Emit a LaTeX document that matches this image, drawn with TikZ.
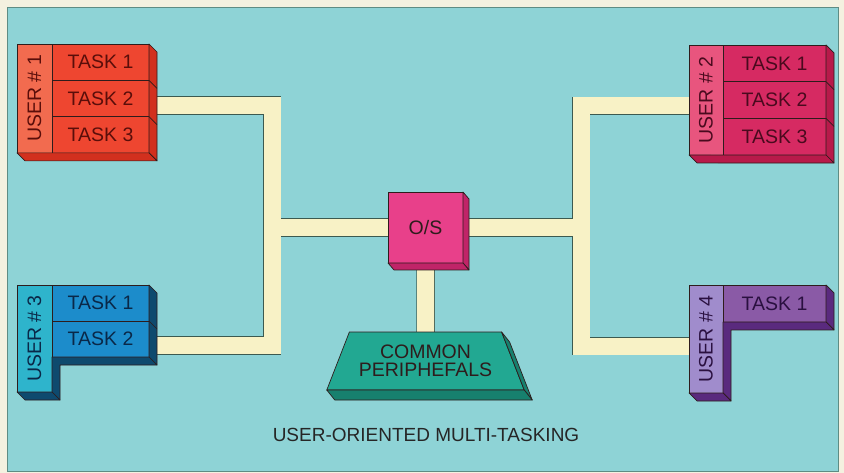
\documentclass[tikz,border=0pt]{standalone}
\usepackage{fontspec}
\setmainfont{Liberation Sans}
\usepackage{graphicx}
\usepackage{tikz}
\usetikzlibrary{positioning,shapes.geometric,backgrounds}

\definecolor{margin}{HTML}{F4F1E0}
\definecolor{sea}{HTML}{8ED3D6}
\definecolor{seaedge}{HTML}{5E8C84}
\definecolor{cream}{HTML}{F8F2C6}
\definecolor{busedge}{HTML}{3C5A50}
\definecolor{edge}{HTML}{2E1C1C}
\definecolor{uoneusr}{HTML}{F26B4F}
\definecolor{uonetask}{HTML}{EE4630}
\definecolor{uoneside}{HTML}{D2301E}
\definecolor{uonetext}{HTML}{5A0E0A}
\definecolor{utwousr}{HTML}{E8557E}
\definecolor{utwotask}{HTML}{D62A62}
\definecolor{utwoside}{HTML}{B81A4A}
\definecolor{utwotext}{HTML}{4A0A1E}
\definecolor{uthreeusr}{HTML}{2EB4CC}
\definecolor{uthreetask}{HTML}{1C8CCB}
\definecolor{uthreeside}{HTML}{0E4A6E}
\definecolor{uthreetext}{HTML}{0A2848}
\definecolor{ufourusr}{HTML}{A08CCC}
\definecolor{ufourtask}{HTML}{8A5AA6}
\definecolor{ufourside}{HTML}{5A2A7E}
\definecolor{ufourtext}{HTML}{2A1040}
\definecolor{osface}{HTML}{E8408A}
\definecolor{osside}{HTML}{C02468}
\definecolor{perface}{HTML}{22A892}
\definecolor{perside}{HTML}{17806E}

\begin{document}
\begin{tikzpicture}[x=1pt,y=-1pt,
  node distance=0pt,
  face/.style={draw=edge,line width=.7pt,inner sep=0pt,outer sep=0pt,anchor=north west,
    font=\fontsize{19.5}{20}\selectfont},
  usr/.style={face,minimum width=35pt},
  task/.style={face,minimum width=97pt,minimum height=36.3pt},
  slab/.style={fill=#1,draw=edge,line width=.7pt,line join=round},
  bus/.style={line width=18.5pt,draw=busedge},
  busfill/.style={line width=17pt,draw=cream}
]
\useasboundingbox (0,0) rectangle (844,473);

% user 1
\node[usr,fill=uoneusr,text=uonetext,minimum height=108.9pt] (u1) at (17,44) {\rotatebox{90}{USER \# 1}};
\node[task,fill=uonetask,text=uonetext] (u1t1) at (52,44) {TASK 1};
\node[task,fill=uonetask,text=uonetext,below=of u1t1] (u1t2) {TASK 2};
\node[task,fill=uonetask,text=uonetext,below=of u1t2] (u1t3) {TASK 3};
\filldraw[slab=uoneside] (u1t1.north east) -- ++(8,8) -- ([shift={(8,8)}]u1t3.south east) -- (u1t3.south east) -- cycle;
\filldraw[slab=uoneside] (u1.south west) -- ++(8,8) -- ([shift={(8,8)}]u1t3.south east) -- (u1t3.south east) -- cycle;
\draw[edge,line width=.7pt] (u1t1.south east) -- ++(8,8) (u1t2.south east) -- ++(8,8);

% user 2
\node[usr,fill=utwousr,text=utwotext,minimum width=34pt,minimum height=110pt] (u2) at (689,45) {\rotatebox{90}{USER \# 2}};
\node[task,fill=utwotask,text=utwotext,minimum width=103pt,minimum height=36.67pt] (u2t1) at (723,45) {TASK 1};
\node[task,fill=utwotask,text=utwotext,minimum width=103pt,minimum height=36.67pt,below=of u2t1] (u2t2) {TASK 2};
\node[task,fill=utwotask,text=utwotext,minimum width=103pt,minimum height=36.67pt,below=of u2t2] (u2t3) {TASK 3};
\filldraw[slab=utwoside] (u2t1.north east) -- ++(8,8) -- ([shift={(8,8)}]u2t3.south east) -- (u2t3.south east) -- cycle;
\filldraw[slab=utwoside] (u2.south west) -- ++(8,8) -- ([shift={(8,8)}]u2t3.south east) -- (u2t3.south east) -- cycle;
\draw[edge,line width=.7pt] (u2t1.south east) -- ++(8,8) (u2t2.south east) -- ++(8,8);

% user 3
\node[usr,fill=uthreeusr,text=uthreetext,minimum height=107pt] (u3) at (17,285) {\rotatebox{90}{USER \# 3}};
\node[task,fill=uthreetask,text=uthreetext,minimum height=36pt] (u3t1) at (52,285) {TASK 1};
\node[task,fill=uthreetask,text=uthreetext,minimum height=36pt,below=of u3t1] (u3t2) {TASK 2};
\filldraw[slab=uthreeside] (u3t1.north east) -- ++(8,8) -- ([shift={(8,8)}]u3t2.south east) -- (u3t2.south east) -- cycle;
\filldraw[slab=uthreeside] (u3t2.south east) -- ++(8,8) -- ([shift={(8,8)}]u3t2.south west)
  -- ([shift={(8,8)}]u3.south east) -- (u3.south east) -- (u3t2.south west) -- cycle;
\filldraw[slab=uthreeside] (u3.south west) -- ++(8,8) -- ([shift={(8,8)}]u3.south east) -- (u3.south east) -- cycle;
\draw[edge,line width=.7pt] (u3t1.south east) -- ++(8,8);

% user 4
\node[usr,fill=ufourusr,text=ufourtext,minimum width=34pt,minimum height=108pt] (u4) at (689,285) {\rotatebox{90}{USER \# 4}};
\node[task,fill=ufourtask,text=ufourtext,minimum width=103pt,minimum height=37pt] (u4t1) at (723,285) {TASK 1};
\filldraw[slab=ufourside] (u4t1.north east) -- ++(8,8) -- ([shift={(8,8)}]u4t1.south east) -- (u4t1.south east) -- cycle;
\filldraw[slab=ufourside] (u4t1.south east) -- ++(8,8) -- ([shift={(8,8)}]u4t1.south west)
  -- ([shift={(8,8)}]u4.south east) -- (u4.south east) -- (u4t1.south west) -- cycle;
\filldraw[slab=ufourside] (u4.south west) -- ++(8,8) -- ([shift={(8,8)}]u4.south east) -- (u4.south east) -- cycle;

% operating system and peripherals
\node[face,fill=osface,text=edge,minimum width=75pt,minimum height=71pt] (os) at (388,192) {O/S};
\filldraw[slab=osside] (os.north east) -- ++(6,7) -- ([shift={(6,7)}]os.south east) -- (os.south east) -- cycle;
\filldraw[slab=osside] (os.south west) -- ++(6,7) -- ([shift={(6,7)}]os.south east) -- (os.south east) -- cycle;
\node[face,trapezium,trapezium angle=58.5,trapezium stretches=true,anchor=center,fill=perface,text=edge,align=center,
  minimum width=198pt,minimum height=58pt,font=\fontsize{19.5}{18.5}\selectfont] (per) at (425.5,361) {COMMON\\PERIPHEFALS};
\filldraw[slab=perside] (per.top right corner) -- ++(8,10) -- ([shift={(8,10)}]per.bottom right corner) -- (per.bottom right corner) -- cycle;
\filldraw[slab=perside] (per.bottom left corner) -- ++(8,10) -- ([shift={(8,10)}]per.bottom right corner) -- (per.bottom right corner) -- cycle;

\node[text=black!85,font=\fontsize{19}{20}\selectfont] (title) at (426,435) {USER-ORIENTED MULTI-TASKING};

\coordinate[left=116pt of os.west] (lbus);
\coordinate[right=118pt of os.east] (rbus);

\begin{pgfonlayer}{background}
\fill[margin] (0,0) rectangle (844,473);
\filldraw[fill=sea,draw=seaedge,line width=.6pt] (7,7) rectangle (838,471);
\foreach \s in {bus,busfill}{
  \draw[\s] ([yshift=-7pt]u1t2.east) -| (lbus) |- ([yshift=-6.5pt]u3t2.east);
  \draw[\s] (lbus) -- (os.west);
  \draw[\s] ([yshift=-6pt]u2.west) -| (rbus) |- ([yshift=-7pt]u4.west);
  \draw[\s] (rbus) -- (os.east);
  \draw[\s] (os.south) -- (per.north);
}
\end{pgfonlayer}
\end{tikzpicture}
\end{document}
